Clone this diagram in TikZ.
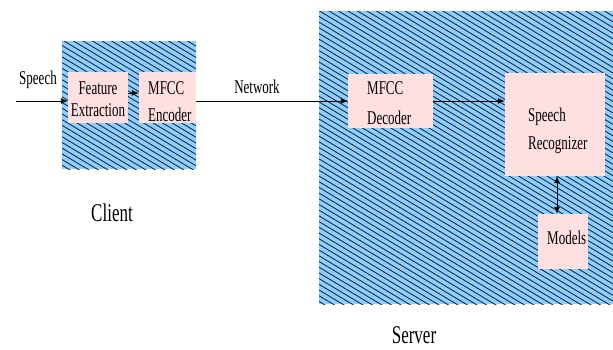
\documentclass[tikz,border=0pt]{standalone}
\usepackage{fontspec}
\setmainfont{Liberation Serif}
\usepackage{graphicx}
\usetikzlibrary{arrows.meta}
\definecolor{bgblue}{RGB}{140,207,255}
\definecolor{boxpink}{RGB}{255,224,224}
\definecolor{hatch}{RGB}{20,30,45}
\newcommand\tx[1]{\scalebox{1}[1.5]{#1}}
\tikzset{
  box/.style={fill=boxpink, draw=none, inner sep=0pt},
  lbl/.style={inner sep=0pt, font=\fontsize{13}{13}\selectfont},
  biglbl/.style={inner sep=0pt, font=\fontsize{17}{17}\selectfont},
  conn/.style={line width=0.9pt, -{Latex[length=7pt,width=6pt]}},
  hatchline/.style={hatch, line width=0.8pt}
}
\begin{document}
\begin{tikzpicture}[x=1pt,y=-1pt]
\useasboundingbox (0,0) rectangle (613,349);
% Client region
\fill[bgblue] (62,41) rectangle (196,169);
\begin{scope}
  \clip (62,41) rectangle (196,169);
  \foreach \i in {0,...,38} {
    \draw[hatchline] (62,{-40+\i*5.7}) -- ++(134,80.4);
  }
\end{scope}
% Server region
\fill[bgblue] (319,11) rectangle (613,304);
\begin{scope}
  \clip (319,11) rectangle (613,304);
  \foreach \i in {0,...,84} {
    \draw[hatchline] (319,{-166+\i*5.7}) -- ++(294,176.4);
  }
\end{scope}
% boxes
\node[box, minimum width=60pt, minimum height=51pt] (feat) at (98,97.5) {};
\node[box, minimum width=57pt, minimum height=51pt] (enc) at (167.5,97.5) {};
\node[box, minimum width=85pt, minimum height=54pt] (dec) at (390.5,101) {};
\node[box, minimum width=100pt, minimum height=103pt] (rec) at (555,124.5) {};
\node[box, minimum width=50pt, minimum height=55pt] (mod) at (563,241.5) {};
% texts
\node[lbl] (tfeat1) at (98,88) {\tx{Feature}};
\node[lbl] (tfeat2) at (98,110) {\tx{Extraction}};
\node[lbl, anchor=west] (tenc1) at (148,88) {\tx{MFCC}};
\node[lbl, anchor=west] (tenc2) at (148,115) {\tx{Encoder}};
\node[lbl, anchor=west] (tdec1) at (367,88) {\tx{MFCC}};
\node[lbl, anchor=west] (tdec2) at (367,118) {\tx{Decoder}};
\node[lbl, anchor=west] (trec1) at (528,117) {\tx{Speech}};
\node[lbl, anchor=west] (trec2) at (528,145) {\tx{Recognizer}};
\node[lbl, anchor=west] (tmod) at (547,238) {\tx{Models}};
\node[lbl] (tspeech) at (38,80) {\tx{Speech}};
\node[lbl] (tnet) at (257,87) {\tx{Network}};
\node[biglbl] (tclient) at (112,213) {\tx{Client}};
\node[biglbl] (tserver) at (414,335) {\tx{Server}};
% connectors
\coordinate (sp) at (16,101);
\draw[conn] (sp) -- (sp -| feat.west);
\draw[conn] ([yshift=4.5pt]feat.east) -- ([yshift=4.5pt]feat.east -| enc.west);
\draw[conn] (enc.east |- dec.west) -- (dec.west);
\draw[conn] (dec.east |- sp) -- (sp -| rec.west);
\draw[line width=0.9pt, {Latex[length=7pt,width=6pt]}-{Latex[length=7pt,width=6pt]}] ([xshift=2pt]rec.south) -- ([xshift=2pt]rec.south |- mod.north);
\end{tikzpicture}
\end{document}
